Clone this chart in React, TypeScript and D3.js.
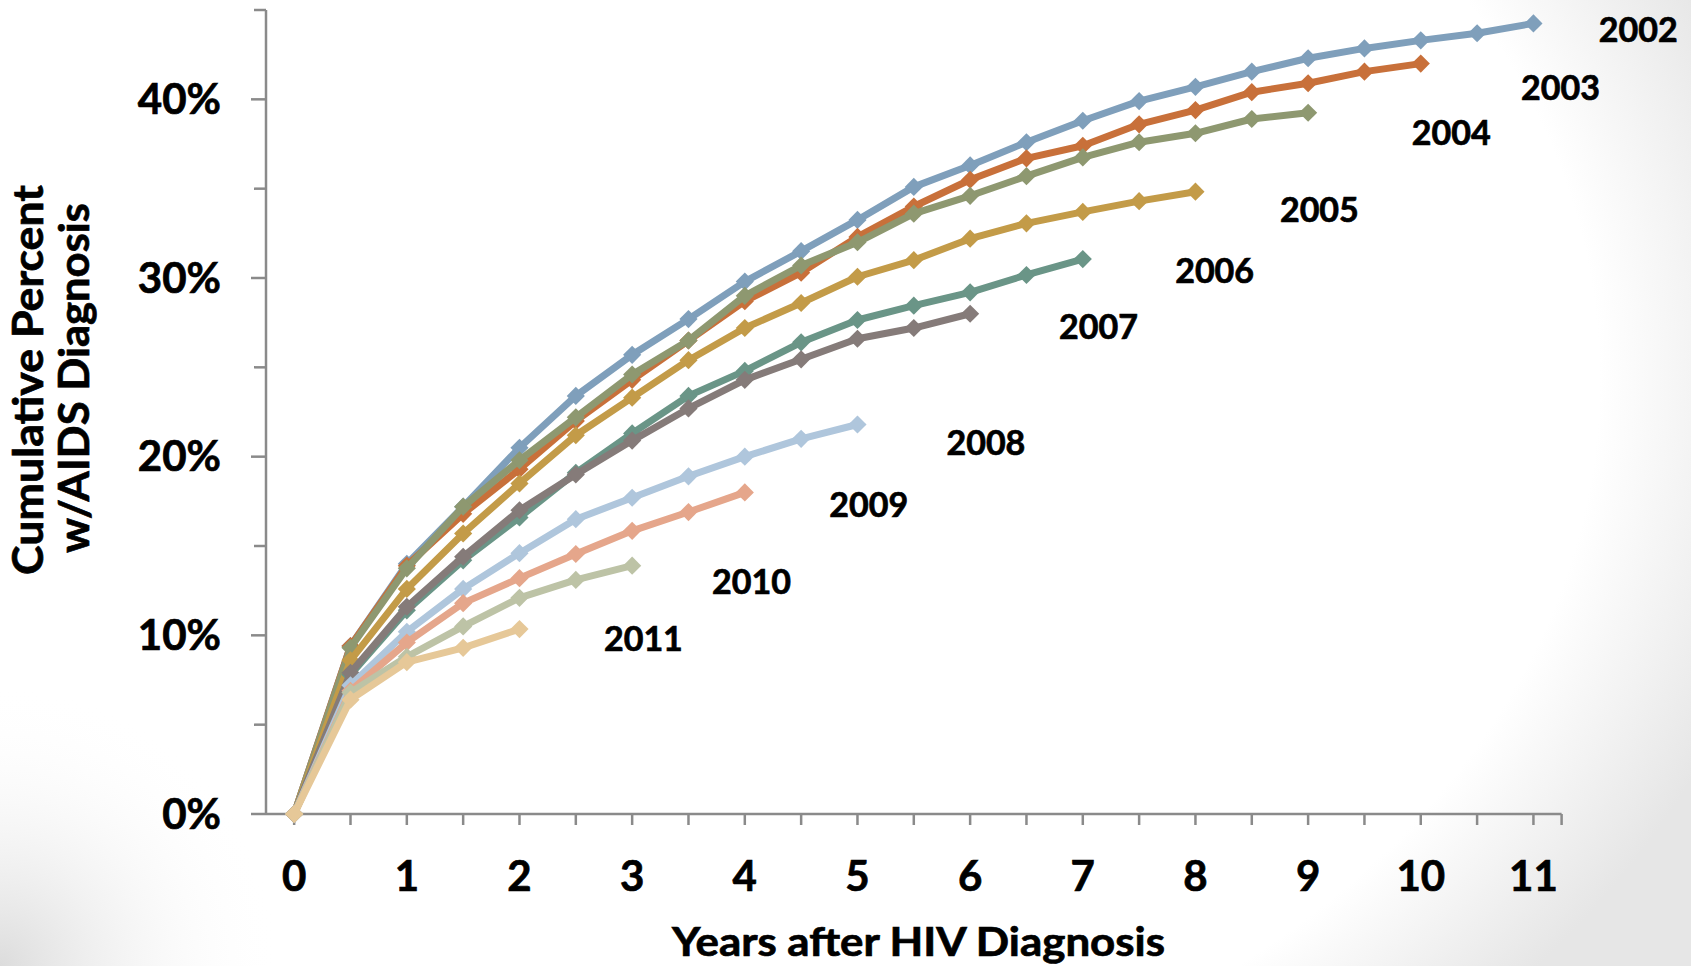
import React from "react";
import * as d3 from "d3";

// ---- data (cumulative % with AIDS diagnosis, by half-year after HIV diagnosis) ----
const years = ["2002", "2003", "2004", "2005", "2006", "2007", "2008", "2009", "2010", "2011"];
const halfYearStep = 0.5;

const s2002 = [0, 9.4, 14.0, 17.2, 20.5, 23.4, 25.7, 27.7, 29.8, 31.5, 33.25, 35.1, 36.3, 37.6, 38.8, 39.9, 40.7, 41.55, 42.3, 42.85, 43.3, 43.7, 44.25];
const s2003 = [0, 9.4, 13.9, 16.8, 19.3, 22.0, 24.3, 26.5, 28.7, 30.3, 32.3, 34.0, 35.5, 36.7, 37.4, 38.6, 39.4, 40.4, 40.9, 41.55, 42.0];
const s2004 = [0, 9.3, 13.75, 17.2, 19.8, 22.2, 24.6, 26.5, 29.0, 30.7, 32.0, 33.6, 34.6, 35.7, 36.75, 37.6, 38.1, 38.9, 39.25];
const s2005 = [0, 8.6, 12.6, 15.7, 18.5, 21.2, 23.3, 25.4, 27.2, 28.6, 30.07, 31.0, 32.2, 33.06, 33.7, 34.3, 34.83];
const s2006 = [0, 7.8, 11.4, 14.2, 16.6, 19.1, 21.3, 23.4, 24.8, 26.4, 27.65, 28.45, 29.2, 30.17, 31.06];
const s2007 = [0, 7.9, 11.6, 14.4, 17.0, 19.0, 20.9, 22.7, 24.3, 25.45, 26.6, 27.2, 28.0];
const s2008 = [0, 7.2, 10.2, 12.6, 14.6, 16.5, 17.7, 18.9, 20.0, 21.0, 21.8];
const s2009 = [0, 6.9, 9.6, 11.8, 13.2, 14.55, 15.85, 16.9, 18.0];
const s2010 = [0, 6.8, 8.8, 10.5, 12.1, 13.1, 13.9];
const s2011 = [0, 6.4, 8.5, 9.3, 10.35];
const seriesValues = [s2002, s2003, s2004, s2005, s2006, s2007, s2008, s2009, s2010, s2011];

const colors = ["#7F9FBB", "#C8703A", "#8E9870", "#C39B48", "#6A9587", "#857B79", "#AFC6DC", "#E5A68B", "#BDC3A6", "#E6C898"];

// label anchor positions in data units (years, percent)
const labelX = [11.93, 11.24, 10.27, 9.10, 8.17, 7.14, 6.14, 5.10, 4.06, 3.10];
const labelY = [43.93, 40.65, 38.16, 33.86, 30.40, 27.31, 20.79, 17.35, 13.04, 9.81];

const xTickLabels = [0, 1, 2, 3, 4, 5, 6, 7, 8, 9, 10, 11];
const yTickValues = [0, 5, 10, 15, 20, 25, 30, 35, 40, 45];
const yLabelValues = [0, 10, 20, 30, 40];

const W = 1691;
const H = 966;
const FONT = "Lato, 'Open Sans', sans-serif";

export default function App() {
  const x = d3.scaleLinear().domain([-0.25, 11.25]).range([266, 1561.6]);
  const y = d3.scaleLinear().domain([0, 45]).range([814, 10]);

  const line = d3
    .line<number>()
    .x((_, i) => x(i * halfYearStep))
    .y((d) => y(d));

  const diamond = d3.symbol(d3.symbolSquare, 165)() as string;

  const xTicks = d3.range(0, 11 + 0.001, 0.5).concat([11.25]);
  const axisColor = "#8a8a8a";
  const textStyle = { fontFamily: FONT, fontWeight: 700, fill: "#000", stroke: "#000", strokeWidth: 0.7 } as const;

  return (
    <svg
      width={W}
      height={H}
      viewBox={`0 0 ${W} ${H}`}
      style={{ position: "absolute", left: 0, top: 0, display: "block" }}
    >
      <defs>
        <radialGradient id="vig" cx="640" cy="380" r="1170" gradientUnits="userSpaceOnUse" gradientTransform="translate(640 380) scale(1 0.78) translate(-640 -380)">
          <stop offset="0.82" stopColor="#ffffff" />
          <stop offset="1" stopColor="#e6e6e6" />
        </radialGradient>
        <radialGradient id="corner" cx="0" cy="966" r="280" gradientUnits="userSpaceOnUse">
          <stop offset="0" stopColor="#dcdcdc" stopOpacity="1" />
          <stop offset="1" stopColor="#ffffff" stopOpacity="0" />
        </radialGradient>
      </defs>
      <rect x={0} y={0} width={W} height={H} fill="url(#vig)" />
      <rect x={0} y={600} width={400} height={366} fill="url(#corner)" />

      {/* Y axis */}
      <line x1={x(-0.25)} x2={x(-0.25)} y1={y(45)} y2={y(0)} stroke={axisColor} strokeWidth={2.5} />
      {yTickValues.map((v) => (
        <line
          key={"yt" + v}
          x1={x(-0.25) - (v % 10 === 0 ? 15 : 12)}
          x2={x(-0.25)}
          y1={y(v)}
          y2={y(v)}
          stroke={axisColor}
          strokeWidth={2.5}
        />
      ))}
      {yLabelValues.map((v) => (
        <text key={"yl" + v} x={221} y={y(v) + 14.5} textAnchor="end" fontSize={42} style={textStyle}>
          {v + "%"}
        </text>
      ))}

      {/* X axis */}
      <line x1={x(-0.25)} x2={x(11.25)} y1={y(0)} y2={y(0)} stroke={axisColor} strokeWidth={2.5} />
      {xTicks.map((v) => (
        <line key={"xt" + v} x1={x(v)} x2={x(v)} y1={y(0)} y2={y(0) + 11} stroke={axisColor} strokeWidth={2.5} />
      ))}
      {xTickLabels.map((v) => (
        <text key={"xl" + v} x={x(v)} y={891} textAnchor="middle" fontSize={42} style={textStyle}>
          {v}
        </text>
      ))}

      {/* axis titles */}
      <text
        x={918.5}
        y={956}
        textAnchor="middle"
        fontSize={40}
        textLength={493}
        lengthAdjust="spacingAndGlyphs"
        style={textStyle}
      >
        Years after HIV Diagnosis
      </text>
      <text
        transform="translate(43,380) rotate(-90)"
        textAnchor="middle"
        fontSize={42}
        textLength={390}
        lengthAdjust="spacingAndGlyphs"
        style={textStyle}
      >
        Cumulative Percent
      </text>
      <text
        transform="translate(89,378) rotate(-90)"
        textAnchor="middle"
        fontSize={42}
        textLength={350}
        lengthAdjust="spacingAndGlyphs"
        style={textStyle}
      >
        w/AIDS Diagnosis
      </text>

      {/* series */}
      {seriesValues.map((vals, si) => (
        <g key={years[si]}>
          <path
            d={line(vals) || ""}
            fill="none"
            stroke={colors[si]}
            strokeWidth={7}
            strokeLinejoin="round"
          />
          {vals.map((v, i) => (
            <path
              key={i}
              d={diamond}
              transform={`translate(${x(i * halfYearStep)},${y(v)}) rotate(45)`}
              fill={colors[si]}
            />
          ))}
        </g>
      ))}

      {/* series labels */}
      {years.map((yr, i) => (
        <text
          key={"lab" + yr}
          x={x(labelX[i])}
          y={y(labelY[i]) + 12.5}
          textAnchor="middle"
          fontSize={34}
          style={textStyle}
        >
          {yr}
        </text>
      ))}
    </svg>
  );
}
